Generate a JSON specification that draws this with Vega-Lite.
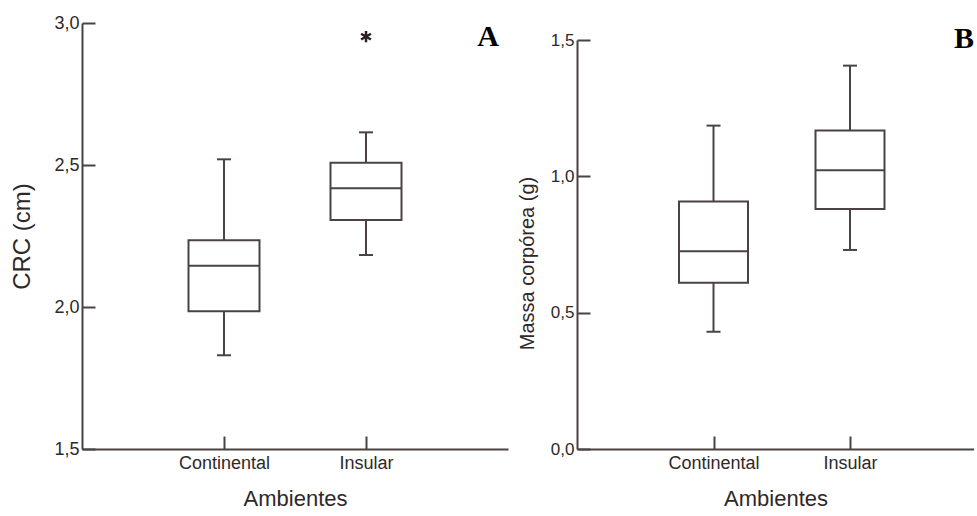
{
  "$schema": "https://vega.github.io/schema/vega-lite/v6.json",
  "background": "white",
  "padding": {"left": 10, "top": 14, "right": 0, "bottom": 0},
  "spacing": 9,
  "config": {
    "view": {"stroke": null},
    "tick": {"opacity": 1},
    "axis": {
      "grid": false,
      "domainColor": "#4b4343",
      "domainWidth": 2,
      "tickColor": "#4b4343",
      "tickWidth": 2,
      "tickSize": -13,
      "labelColor": "#2f2828",
      "titleColor": "#2f2828",
      "labelFont": "Liberation Sans",
      "titleFont": "Liberation Sans",
      "titleFontWeight": "normal"
    },
    "axisX": {
      "labelFontSize": 18,
      "labelAngle": 0,
      "labelPadding": 18,
      "titleFontSize": 22,
      "titlePadding": 16
    },
    "axisY": {
      "labelFontSize": 18,
      "labelPadding": 16,
      "labelExpr": "replace(format(datum.value, '.1f'), '.', ',')"
    }
  },
  "datasets": {
    "crc": [
      {"Ambiente": "Continental", "lower": 1.83, "q1": 1.985, "median": 2.145, "q3": 2.235, "upper": 2.52},
      {"Ambiente": "Insular", "lower": 2.183, "q1": 2.306, "median": 2.418, "q3": 2.508, "upper": 2.615}
    ],
    "crc_outlier": [
      {"Ambiente": "Insular", "CRC": 2.952}
    ],
    "massa": [
      {"Ambiente": "Continental", "lower": 0.43, "q1": 0.61, "median": 0.725, "q3": 0.908, "upper": 1.186},
      {"Ambiente": "Insular", "lower": 0.73, "q1": 0.88, "median": 1.022, "q3": 1.168, "upper": 1.406}
    ]
  },
  "hconcat": [
    {
      "width": 426,
      "height": 426,
      "title": {"text": "A", "anchor": "end", "frame": "group", "offset": -38, "dx": -9, "font": "Liberation Serif", "fontSize": 30, "fontWeight": "bold", "color": "black"},
      "data": {"name": "crc"},
      "encoding": {
        "x": {
          "field": "Ambiente", "type": "nominal",
          "scale": {"type": "point", "padding": 1, "domain": ["Continental", "Insular"]},
          "axis": {"title": "Ambientes"}
        }
      },
      "layer": [
        {
          "mark": {"type": "rule", "color": "#4b4343", "strokeWidth": 2},
          "encoding": {
            "y": {"field": "lower", "type": "quantitative", "title": "CRC (cm)", "scale": {"domain": [1.5, 3.0], "nice": false, "zero": false},
                  "axis": {"values": [1.5, 2.0, 2.5, 3.0], "titleFontSize": 24, "titlePadding": 19}},
            "y2": {"field": "upper"}
          }
        },
        {
          "mark": {"type": "bar", "fill": "white", "stroke": "#4b4343", "strokeWidth": 2, "width": 71},
          "encoding": {
            "y": {"field": "q1", "type": "quantitative", "title": "CRC (cm)"},
            "y2": {"field": "q3"}
          }
        },
        {
          "mark": {"type": "tick", "color": "#4b4343", "thickness": 2, "size": 71, "opacity": 1},
          "encoding": {"y": {"field": "median", "type": "quantitative", "title": "CRC (cm)"}}
        },
        {
          "mark": {"type": "tick", "color": "#4b4343", "thickness": 2, "size": 14, "opacity": 1},
          "encoding": {"y": {"field": "lower", "type": "quantitative", "title": "CRC (cm)"}}
        },
        {
          "mark": {"type": "tick", "color": "#4b4343", "thickness": 2, "size": 14, "opacity": 1},
          "encoding": {"y": {"field": "upper", "type": "quantitative", "title": "CRC (cm)"}}
        },
        {
          "data": {"name": "crc_outlier"},
          "mark": {"type": "point", "shape": "M0,-1L0,1M-0.866,-0.5L0.866,0.5M-0.866,0.5L0.866,-0.5", "size": 130, "filled": false, "stroke": "#2a2222", "strokeWidth": 2.5, "opacity": 1},
          "encoding": {"y": {"field": "CRC", "type": "quantitative", "title": "CRC (cm)"}}
        }
      ]
    },
    {
      "width": 397,
      "height": 426,
      "title": {"text": "B", "anchor": "end", "frame": "group", "offset": -31, "dx": 0, "font": "Liberation Serif", "fontSize": 30, "fontWeight": "bold", "color": "black"},
      "data": {"name": "massa"},
      "encoding": {
        "x": {
          "field": "Ambiente", "type": "nominal",
          "scale": {"type": "point", "padding": 0.9542, "align": 0.524, "domain": ["Continental", "Insular"]},
          "axis": {"title": "Ambientes"}
        }
      },
      "layer": [
        {
          "mark": {"type": "rule", "color": "#4b4343", "strokeWidth": 2},
          "encoding": {
            "y": {"field": "lower", "type": "quantitative", "title": "Massa corpórea (g)", "scale": {"domain": [0, 1.5], "nice": false, "zero": false, "range": [426, 17]},
                  "axis": {"values": [0, 0.5, 1.0, 1.5], "labelFontSize": 17, "titleFontSize": 20, "titlePadding": 13, "titleY": 240}},
            "y2": {"field": "upper"}
          }
        },
        {
          "mark": {"type": "bar", "fill": "white", "stroke": "#4b4343", "strokeWidth": 2, "width": 69},
          "encoding": {
            "y": {"field": "q1", "type": "quantitative", "title": "Massa corpórea (g)"},
            "y2": {"field": "q3"}
          }
        },
        {
          "mark": {"type": "tick", "color": "#4b4343", "thickness": 2, "size": 69, "opacity": 1},
          "encoding": {"y": {"field": "median", "type": "quantitative", "title": "Massa corpórea (g)"}}
        },
        {
          "mark": {"type": "tick", "color": "#4b4343", "thickness": 2, "size": 14, "opacity": 1},
          "encoding": {"y": {"field": "lower", "type": "quantitative", "title": "Massa corpórea (g)"}}
        },
        {
          "mark": {"type": "tick", "color": "#4b4343", "thickness": 2, "size": 14, "opacity": 1},
          "encoding": {"y": {"field": "upper", "type": "quantitative", "title": "Massa corpórea (g)"}}
        }
      ]
    }
  ]
}
